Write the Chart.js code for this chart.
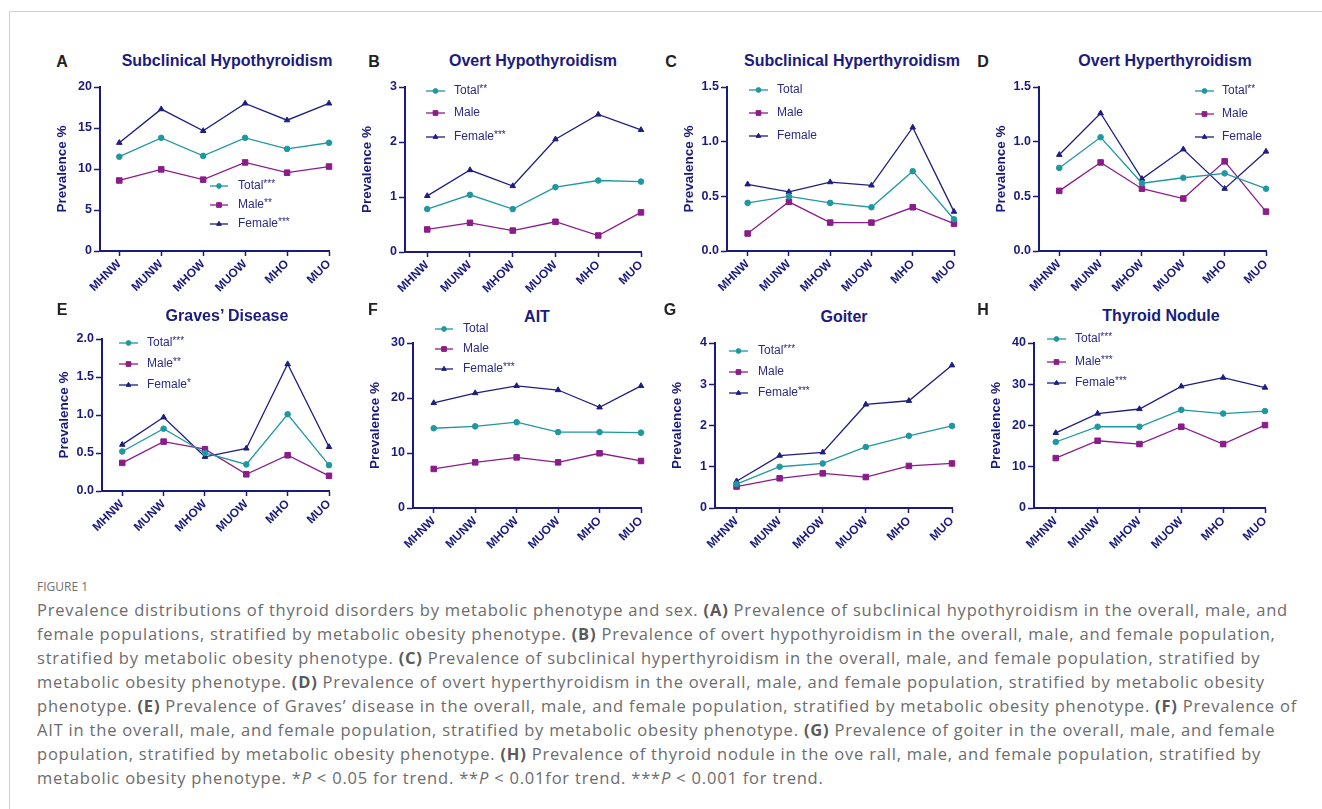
<!DOCTYPE html>
<html>
<head>
<meta charset="utf-8">
<script src="https://cdn.jsdelivr.net/npm/chart.js@4.4.0/dist/chart.umd.min.js"></script>
<style>
body{margin:0;background:#fff;width:1322px;height:809px;overflow:hidden;position:relative;font-family:"Liberation Sans",Arial,sans-serif}
#frame{position:absolute;left:9px;top:11px;width:1400px;height:900px;border-top:1px solid #d2d2d2;border-left:1px solid #d2d2d2}
canvas{position:absolute}
.lt{position:absolute;font-weight:bold;font-size:16px;color:#222;transform:translate(-50%,-50%)}
.tt{position:absolute;font-weight:bold;font-size:16px;color:#1b1b7d;transform:translate(-50%,-50%);white-space:nowrap}
#fig{position:absolute;left:37px;top:580px;font-family:"Open Sans",sans-serif;font-size:12px;line-height:14px;color:#707070}
#cap{position:absolute;left:37px;top:598px;font-family:"Open Sans",sans-serif;font-size:16.5px;line-height:24px;letter-spacing:0.8px;color:#6c6c6c;white-space:nowrap}
#cap b{color:#5a5a5a}
</style>
</head>
<body>
<div id="frame"></div>
<div id="fig">FIGURE 1</div>
<div id="cap">
Prevalence distributions of thyroid disorders by metabolic phenotype and sex. <b>(A)</b> Prevalence of subclinical hypothyroidism in the overall, male, and<br>
female populations, stratified by metabolic obesity phenotype. <b>(B)</b> Prevalence of overt hypothyroidism in the overall, male, and female population,<br>
stratified by metabolic obesity phenotype. <b>(C)</b> Prevalence of subclinical hyperthyroidism in the overall, male, and female population, stratified by<br>
metabolic obesity phenotype. <b>(D)</b> Prevalence of overt hyperthyroidism in the overall, male, and female population, stratified by metabolic obesity<br>
phenotype. <b>(E)</b> Prevalence of Graves’ disease in the overall, male, and female population, stratified by metabolic obesity phenotype. <b>(F)</b> Prevalence of<br>
AIT in the overall, male, and female population, stratified by metabolic obesity phenotype. <b>(G)</b> Prevalence of goiter in the overall, male, and female<br>
population, stratified by metabolic obesity phenotype. <b>(H)</b> Prevalence of thyroid nodule in the ove rall, male, and female population, stratified by<br>
metabolic obesity phenotype. *<i>P</i> &lt; 0.05 for trend. **<i>P</i> &lt; 0.01for trend. ***<i>P</i> &lt; 0.001 for trend.
</div>
<script>
var phenotypes = ['MHNW', 'MUNW', 'MHOW', 'MUOW', 'MHO', 'MUO'];

// A - subclinical hypothyroidism
var scHypoTotal = [11.5, 13.8, 11.6, 13.8, 12.45, 13.2];
var scHypoMale = [8.6, 9.95, 8.7, 10.8, 9.55, 10.3];
var scHypoFemale = [13.2, 17.3, 14.65, 18.0, 15.95, 18.0];
var scHypoLegend = ['Total***', 'Male**', 'Female***'];
var scHypoTicks = ['0', '5', '10', '15', '20'];

// B - overt hypothyroidism
var ovHypoTotal = [0.78, 1.04, 0.78, 1.18, 1.30, 1.28];
var ovHypoMale = [0.41, 0.53, 0.39, 0.55, 0.30, 0.72];
var ovHypoFemale = [1.02, 1.49, 1.20, 2.05, 2.50, 2.22];
var ovHypoLegend = ['Total**', 'Male', 'Female***'];
var ovHypoTicks = ['0', '1', '2', '3'];

// C - subclinical hyperthyroidism
var scHyperTotal = [0.44, 0.50, 0.44, 0.40, 0.73, 0.29];
var scHyperMale = [0.16, 0.45, 0.26, 0.26, 0.40, 0.25];
var scHyperFemale = [0.61, 0.54, 0.63, 0.60, 1.13, 0.36];
var scHyperLegend = ['Total', 'Male', 'Female'];
var scHyperTicks = ['0.0', '0.5', '1.0', '1.5'];

// D - overt hyperthyroidism
var ovHyperTotal = [0.76, 1.04, 0.62, 0.67, 0.71, 0.57];
var ovHyperMale = [0.55, 0.81, 0.57, 0.48, 0.82, 0.36];
var ovHyperFemale = [0.88, 1.26, 0.66, 0.93, 0.57, 0.91];
var ovHyperLegend = ['Total**', 'Male', 'Female'];
var ovHyperTicks = ['0.0', '0.5', '1.0', '1.5'];

// E - graves
var gravesTotal = [0.52, 0.82, 0.50, 0.35, 1.01, 0.34];
var gravesMale = [0.37, 0.65, 0.55, 0.22, 0.47, 0.20];
var gravesFemale = [0.61, 0.97, 0.45, 0.56, 1.67, 0.58];
var gravesLegend = ['Total***', 'Male**', 'Female*'];
var gravesTicks = ['0.0', '0.5', '1.0', '1.5', '2.0'];

// F - AIT
var aitTotal = [14.5, 14.85, 15.6, 13.8, 13.8, 13.7];
var aitMale = [7.1, 8.3, 9.2, 8.3, 9.95, 8.55];
var aitFemale = [19.1, 20.9, 22.2, 21.45, 18.3, 22.2];
var aitLegend = ['Total', 'Male', 'Female***'];
var aitTicks = ['0', '10', '20', '30'];

// G - goiter
var goiterTotal = [0.58, 1.00, 1.08, 1.48, 1.75, 1.99];
var goiterMale = [0.52, 0.72, 0.84, 0.75, 1.02, 1.08];
var goiterFemale = [0.65, 1.27, 1.35, 2.51, 2.60, 3.46];
var goiterLegend = ['Total***', 'Male', 'Female***'];
var goiterTicks = ['0', '1', '2', '3', '4'];

// H - thyroid nodule
var noduleTotal = [16.0, 19.7, 19.7, 23.8, 22.9, 23.5];
var noduleMale = [12.1, 16.3, 15.5, 19.7, 15.5, 20.1];
var noduleFemale = [18.2, 22.9, 24.0, 29.5, 31.6, 29.2];
var noduleLegend = ['Total***', 'Male***', 'Female***'];
var noduleTicks = ['0', '10', '20', '30', '40'];

var navy = '#1b1b7d';
var teal = '#1f98a0';
var purple = '#8b1c89';
var fem = '#1e1e82';

var panels = [
    {letter: 'A', title: 'Subclinical Hypothyroidism', tx: 227, ty: 61, lx: 62, ly: 62,
     area: [100, 87, 329, 251], xMin: -0.46, data: [scHypoTotal, scHypoMale, scHypoFemale], legend: scHypoLegend, ticks: scHypoTicks,
     leg: [210, 228, 238, [186, 205, 224]]},
    {letter: 'B', title: 'Overt Hypothyroidism', tx: 533, ty: 61, lx: 374, ly: 62,
     area: [405, 87, 641, 252], xMin: -0.52, data: [ovHypoTotal, ovHypoMale, ovHypoFemale], legend: ovHypoLegend, ticks: ovHypoTicks,
     leg: [426, 445, 454, [91, 113, 137]]},
    {letter: 'C', title: 'Subclinical Hyperthyroidism', tx: 852, ty: 61, lx: 671, ly: 62,
     area: [727, 87, 954, 251], xMin: -0.5, data: [scHyperTotal, scHyperMale, scHyperFemale], legend: scHyperLegend, ticks: scHyperTicks,
     leg: [749, 768, 777, [90, 113, 136]]},
    {letter: 'D', title: 'Overt Hyperthyroidism', tx: 1165, ty: 61, lx: 983, ly: 62,
     area: [1039, 87, 1266, 251], xMin: -0.49, data: [ovHyperTotal, ovHyperMale, ovHyperFemale], legend: ovHyperLegend, ticks: ovHyperTicks,
     leg: [1195, 1214, 1222, [91, 114, 137]]},
    {letter: 'E', title: 'Graves’ Disease', tx: 227, ty: 316, lx: 62, ly: 310,
     area: [102, 339, 329, 491], xMin: -0.49, data: [gravesTotal, gravesMale, gravesFemale], legend: gravesLegend, ticks: gravesTicks,
     leg: [119, 138, 147, [343, 364, 385]]},
    {letter: 'F', title: 'AIT', tx: 537, ty: 317, lx: 373, ly: 310,
     area: [413, 343, 641, 508], xMin: -0.5, data: [aitTotal, aitMale, aitFemale], legend: aitLegend, ticks: aitTicks,
     leg: [435, 453, 463, [329, 349, 369]]},
    {letter: 'G', title: 'Goiter', tx: 844, ty: 317, lx: 670, ly: 310,
     area: [715, 343, 952, 508], xMin: -0.5, data: [goiterTotal, goiterMale, goiterFemale], legend: goiterLegend, ticks: goiterTicks,
     leg: [729, 748, 758, [351, 372, 393]]},
    {letter: 'H', title: 'Thyroid Nodule', tx: 1161, ty: 316, lx: 983, ly: 310,
     area: [1034, 343, 1265, 508], xMin: -0.52, data: [noduleTotal, noduleMale, noduleFemale], legend: noduleLegend, ticks: noduleTicks,
     leg: [1047, 1066, 1075, [339, 362, 383]]}
];

// legend drawn inside the plot like the Prism original
var inLegend = {
    id: 'inLegend',
    afterDraw: function (chart, args, o) {
        var ctx = chart.ctx;
        chart.data.datasets.forEach(function (ds, i) {
            var y = o.rows[i] - o.top;
            var x1 = o.x1 - o.left, x2 = o.x2 - o.left;
            ctx.save();
            ctx.strokeStyle = ds.borderColor;
            ctx.lineWidth = ds.borderWidth;
            ctx.beginPath();
            ctx.moveTo(x1, y);
            ctx.lineTo(x2, y);
            ctx.stroke();
            ctx.fillStyle = ds.pointBackgroundColor;
            ctx.lineWidth = 1;
            Chart.helpers.drawPoint(ctx, {pointStyle: ds.pointStyle, radius: ds.pointRadius * 0.85, borderWidth: 1}, (x1 + x2) / 2, y);
            var m = ds.label.match(/^([^*]*)(\**)$/);
            var tx = o.tx - o.left;
            ctx.fillStyle = '#2b2b86';
            ctx.textBaseline = 'middle';
            ctx.font = '12px "Liberation Sans", Arial, sans-serif';
            ctx.fillText(m[1], tx, y);
            if (m[2]) {
                var w = ctx.measureText(m[1]).width;
                ctx.font = '10px "Liberation Sans", Arial, sans-serif';
                ctx.fillText(m[2], tx + w, y - 2);
            }
            ctx.restore();
        });
    }
};

var yW = 46, padT = 24, padR = 12, xH = 54;
var styles = [
    {c: teal, ps: 'circle', r: 2.8},
    {c: purple, ps: 'rect', r: 3.9},
    {c: fem, ps: 'triangle', r: 3.2}
];

panels.forEach(function (p, k) {
    var L = p.area[0], T = p.area[1], R = p.area[2], B = p.area[3];
    var cl = L - yW, ct = T - padT;
    var cw = R - L + yW + padR, ch = B - T + padT + xH;

    var lt = document.createElement('div');
    lt.className = 'lt'; lt.textContent = p.letter;
    lt.style.left = p.lx + 'px'; lt.style.top = p.ly + 'px';
    document.body.appendChild(lt);
    var tt = document.createElement('div');
    tt.className = 'tt'; tt.textContent = p.title;
    tt.style.left = p.tx + 'px'; tt.style.top = p.ty + 'px';
    document.body.appendChild(tt);

    var cv = document.createElement('canvas');
    cv.width = cw; cv.height = ch;
    cv.style.left = cl + 'px'; cv.style.top = ct + 'px';
    document.body.appendChild(cv);

    var datasets = p.data.map(function (vals, i) {
        return {
            label: p.legend[i],
            data: vals.map(function (v, j) { return {x: j, y: v}; }),
            borderColor: styles[i].c,
            backgroundColor: styles[i].c,
            pointBackgroundColor: styles[i].c,
            pointBorderColor: styles[i].c,
            pointStyle: styles[i].ps,
            pointRadius: styles[i].r,
            pointBorderWidth: 1,
            borderWidth: 1.3,
            tension: 0,
            clip: false
        };
    });
    var yTicks = p.ticks;
    var yMax = parseFloat(yTicks[yTicks.length - 1]);

    new Chart(cv.getContext('2d'), {
        type: 'line',
        data: {datasets: datasets},
        options: {
            responsive: false,
            animation: false,
            events: [],
            layout: {padding: {top: padT, right: padR, left: 0, bottom: 0}},
            plugins: {
                legend: {display: false},
                tooltip: {enabled: false},
                inLegend: {x1: p.leg[0], x2: p.leg[1], tx: p.leg[2], rows: p.leg[3], left: cl, top: ct}
            },
            scales: {
                x: {
                    type: 'linear',
                    min: p.xMin,
                    max: 5,
                    afterBuildTicks: function (s) {
                        s.ticks = phenotypes.map(function (c, j) { return {value: j}; });
                    },
                    afterFit: function (s) { s.height = xH; },
                    border: {display: true, color: navy, width: 2},
                    grid: {display: true, drawOnChartArea: false, drawTicks: true, tickLength: 5, tickColor: navy, tickWidth: 1.5},
                    ticks: {
                        autoSkip: false,
                        minRotation: 45,
                        maxRotation: 45,
                        padding: 1,
                        color: navy,
                        font: {family: '"Liberation Sans", Arial, sans-serif', size: 12, weight: 'bold'},
                        callback: function (v) { return phenotypes[v]; }
                    }
                },
                y: {
                    min: 0,
                    max: yMax,
                    afterBuildTicks: function (s) {
                        s.ticks = yTicks.map(function (t) { return {value: parseFloat(t)}; });
                    },
                    afterFit: function (s) { s.width = yW; },
                    border: {display: true, color: navy, width: 2},
                    grid: {display: true, drawOnChartArea: false, drawTicks: true, tickLength: 6, tickColor: navy, tickWidth: 1.5},
                    title: {display: true, text: 'Prevalence %', color: navy, padding: 0,
                        font: {family: '"Liberation Sans", Arial, sans-serif', size: 13.5, weight: 'bold'}},
                    ticks: {
                        padding: 2,
                        color: navy,
                        font: {family: '"Liberation Sans", Arial, sans-serif', size: 12.5, weight: 'bold'},
                        callback: function (v) {
                            for (var i = 0; i < yTicks.length; i++) {
                                if (parseFloat(yTicks[i]) === v) return yTicks[i];
                            }
                            return '';
                        }
                    }
                }
            }
        },
        plugins: [inLegend]
    });
});
</script>
</body>
</html>
